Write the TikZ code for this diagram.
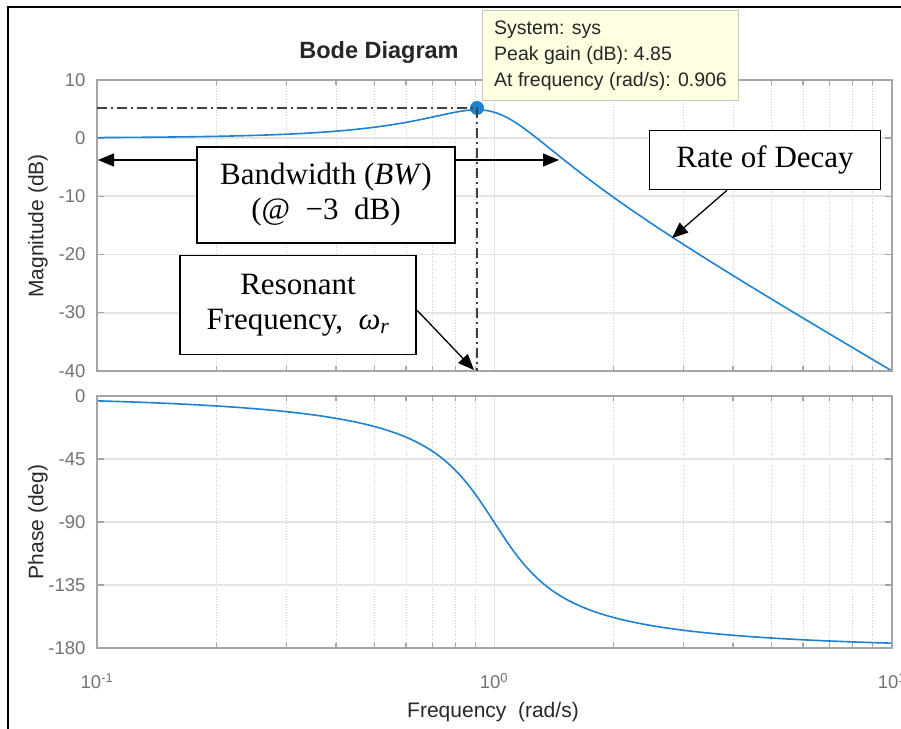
\documentclass[tikz,border=0pt]{standalone}
\usepackage{fontspec}
\setmainfont{Liberation Serif}
\setsansfont{Liberation Sans}
\usetikzlibrary{arrows.meta}

\definecolor{mblue}{RGB}{30,130,210}
\definecolor{tipfill}{RGB}{255,255,225}
\definecolor{axgray}{RGB}{165,165,165}
\definecolor{gridgray}{RGB}{228,228,228}
\definecolor{ticktext}{RGB}{115,115,115}
\definecolor{labeltext}{RGB}{40,40,40}

\begin{document}
\begin{tikzpicture}[
  x=1pt,y=-1pt,
  declare function={xw(\u)=97+397*(\u+1); ymag(\v)=138-5.82*\v; yph(\v)=396-1.4*\v;},
  axframe/.style={draw=axgray,line width=2.2pt},
  major/.style={draw=gridgray,line width=1.8pt},
  minor/.style={draw=gray!40,line width=0.7pt,dotted},
  tickmark/.style={draw=axgray,line width=1.2pt},
  ticklab/.style={font=\sffamily\fontsize{18.5}{18.5}\selectfont,text=ticktext},
  axlab/.style={font=\sffamily\fontsize{21}{21}\selectfont,text=labeltext},
  curve/.style={draw=mblue,line width=1.6pt},
  note/.style={draw,line width=1.6pt,fill=white,align=center,
    font=\fontsize{31}{35}\selectfont,inner sep=0pt},
  pointer/.style={-{Triangle[length=16pt,width=13pt]},line width=1.3pt},
  guide/.style={draw=black!75,line width=1.5pt,
    dash pattern=on 10pt off 4pt on 2pt off 4pt}
]
  \useasboundingbox (0,0) rectangle (901,728);
  \fill[white] (0,0) rectangle (901,728);

  % grid of both panels
  \foreach \d in {-1,0}{
    \foreach \m in {2,...,9}{
      \draw[minor] ({xw(\d+log10(\m))},80) -- ++(0,291);
      \draw[minor] ({xw(\d+log10(\m))},396) -- ++(0,252);
      \draw[tickmark] ({xw(\d+log10(\m))},80) -- ++(0,5);
      \draw[tickmark] ({xw(\d+log10(\m))},371) -- ++(0,-5);
      \draw[tickmark] ({xw(\d+log10(\m))},396) -- ++(0,5);
      \draw[tickmark] ({xw(\d+log10(\m))},648) -- ++(0,-5);
    }
  }
  \foreach \v in {0,-10,-20,-30}
    \draw[major] (97,{ymag(\v)}) -- (892,{ymag(\v)});
  \foreach \v in {-45,-90,-135}
    \draw[major] (97,{yph(\v)}) -- (892,{yph(\v)});
  \draw[draw=gridgray,line width=1pt] (494,80) -- (494,371) (494,396) -- (494,648);
  \foreach \v in {10,0,-10,-20,-30,-40}{
    \draw[tickmark] (97,{ymag(\v)}) -- ++(7,0);
    \draw[tickmark] (892,{ymag(\v)}) -- ++(-7,0);
    \node[ticklab,anchor=east] at (89,{ymag(\v)}) {\v};
  }
  \foreach \v in {0,-45,-90,-135,-180}{
    \draw[tickmark] (97,{yph(\v)}) -- ++(7,0);
    \draw[tickmark] (892,{yph(\v)}) -- ++(-7,0);
    \node[ticklab,anchor=east] at (89,{yph(\v)}) {\v};
  }

  % responses of 1/(s^2+0.6s+1)
  \draw[curve] plot[domain=-1:1,samples=241,variable=\t]
    ({xw(\t)},{ymag(-10*log10((1-10^(2*\t))^2+0.36*10^(2*\t)))});
  \draw[curve] plot[domain=-1:1,samples=241,variable=\t]
    ({xw(\t)},{yph(-atan2(0.6*10^\t,1-10^(2*\t)))});

  \draw[axframe] (97,80) rectangle (892,371);
  \draw[axframe] (97,396) rectangle (892,648);

  \node[ticklab] (xa) at (97,681) {10\textsuperscript{-1}};
  \node[ticklab] (xb) at (494,681) {10\textsuperscript{0}};
  \node[ticklab] (xc) at (892,681) {10\textsuperscript{1}};
  \node[axlab] (xlab) at (493,712) {Frequency \ (rad/s)};
  \node[axlab,rotate=90] (maglab) at (38,226) {Magnitude (dB)};
  \node[axlab,rotate=90] (phlab) at (38,522) {Phase (deg)};
  \node[font=\sffamily\bfseries\fontsize{23.5}{23.5}\selectfont,text=black!85]
    (title) at (379,52) {Bode Diagram};

  % peak marker and data tip
  \node[circle,fill=mblue,inner sep=0pt,minimum size=14pt] (peak) at (477,108) {};
  \coordinate (pk0) at (97,108);
  \coordinate (wr) at (477,371);
  \draw[guide] (pk0) -- (peak.center) -- (wr);
  \node[draw=gray!45,fill=tipfill,line width=1pt,anchor=north west,
    minimum width=256pt,minimum height=90pt,align=left,inner sep=6pt,
    font=\sffamily\fontsize{19.5}{26}\selectfont,text=black!85]
    (tip) at (482,10) {System: sys\\Peak gain (dB): 4.85\\At frequency (rad/s): 0.906};

  % annotations
  \node[note,minimum width=258pt,minimum height=96pt] (bw) at (326,195)
    {Bandwidth (\textit{BW})\\(@\ \ −3\ \ dB)};
  \node[note,minimum width=231pt,minimum height=59pt] (decay) at (765,160)
    {Rate of Decay};
  \node[note,minimum width=236pt,minimum height=99pt] (reso) at (298,305)
    {Resonant\\Frequency, \ \textit{ω}\textsubscript{\textit{r}}};
  \coordinate (bwl) at (98,160);
  \coordinate (bwr) at (559,160);
  \coordinate (slope) at (672,238);
  \draw[pointer] (bw.west |- bwl) -- (bwl);
  \draw[pointer] (bw.east |- bwr) -- (bwr);
  \draw[pointer] ([xshift=-38pt]decay.south) -- (slope);
  \draw[pointer] ([yshift=-5pt]reso.east) -- (474,370);

  % outer frame
  \draw[line width=2.5pt] (8,745) -- (8,7) -- (915,7);
\end{tikzpicture}
\end{document}
